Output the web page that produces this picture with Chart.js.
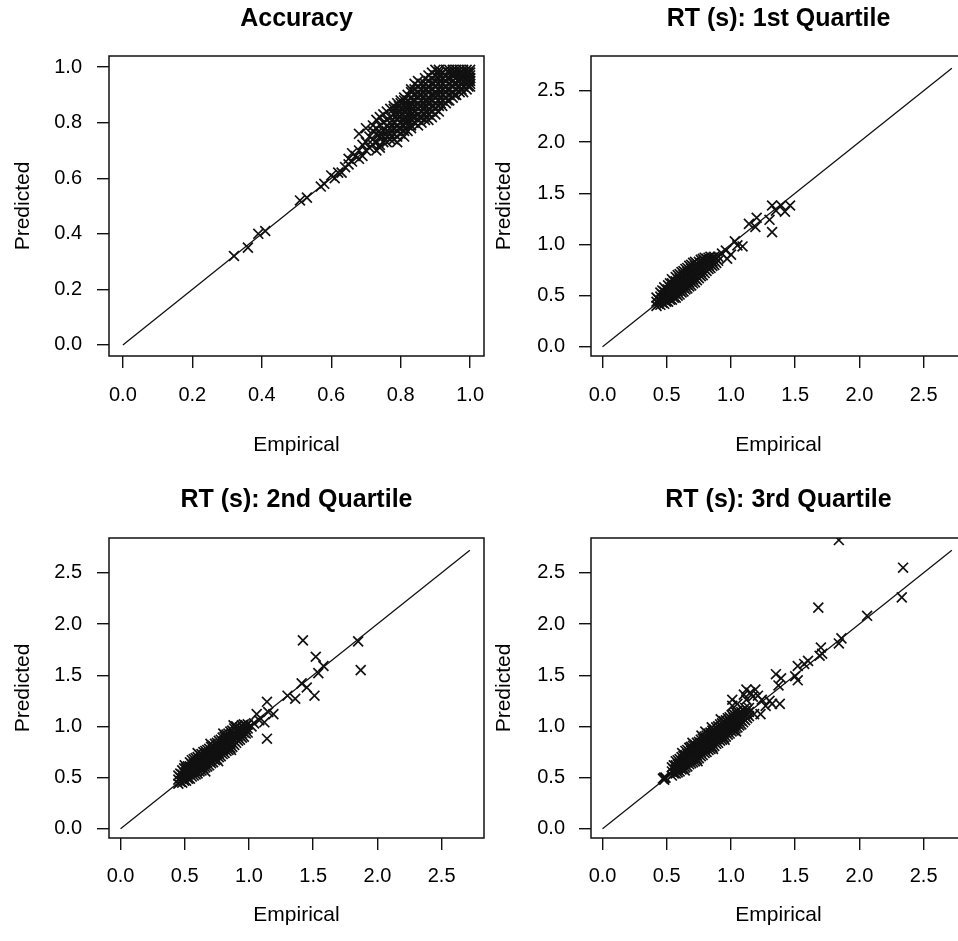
<!DOCTYPE html>
<html>
<head>
<meta charset="utf-8">
<script src="https://cdn.jsdelivr.net/npm/chart.js@4.4.1/dist/chart.umd.min.js"></script>
<style>
html, body { margin: 0; padding: 0; background: #fff; overflow: hidden; }
#wrap { position: relative; width: 958px; height: 941px; overflow: hidden; }
canvas { position: absolute; }
</style>
</head>
<body>
<div id="wrap">
<canvas id="c1" width="500" height="470" style="left:0px;top:0px"></canvas>
<canvas id="c2" width="500" height="470" style="left:479px;top:0px"></canvas>
<canvas id="c3" width="500" height="471" style="left:0px;top:470px"></canvas>
<canvas id="c4" width="500" height="471" style="left:479px;top:470px"></canvas>
</div>
<script>
// titles and axis labels
const titles = ['Accuracy', 'RT (s): 1st Quartile', 'RT (s): 2nd Quartile', 'RT (s): 3rd Quartile'];
const xLabel = 'Empirical';
const yLabel = 'Predicted';

// tick values
const accTicks = [0, 0.2, 0.4, 0.6, 0.8, 1.0];
const rtTicks = [0, 0.5, 1.0, 1.5, 2.0, 2.5];

// identity line end points
const accDiag = [0, 1.0];
const rtDiag = [0, 2.72];

// [empirical, predicted]
const accPairs = [
 [0.32,0.32],[0.36,0.35],[0.39,0.40],[0.41,0.41],[0.51,0.52],[0.53,0.53],
 [0.57,0.57],[0.58,0.58],[0.60,0.61],[0.61,0.60],[0.62,0.62],
 [0.63,0.62],[0.64,0.64],[0.65,0.65],[0.65,0.67],[0.66,0.66],[0.66,0.69],
 [0.67,0.68],[0.68,0.67],[0.68,0.70],[0.68,0.76],[0.69,0.72],[0.69,0.68],
 [0.70,0.70],[0.70,0.73],[0.70,0.78],[0.71,0.75],[0.71,0.71],[0.72,0.74],
 [0.72,0.72],[0.73,0.76],[0.73,0.73],[0.73,0.70],[0.74,0.72],[0.74,0.75],
 [0.74,0.71],[0.75,0.77],[0.75,0.73],[0.76,0.75],[0.76,0.79],[0.77,0.76],
 [0.77,0.80],[0.77,0.74],
 [0.78,0.76],[0.78,0.78],[0.78,0.80],[0.78,0.83],[0.79,0.75],[0.79,0.81],
 [0.80,0.78],[0.80,0.80],[0.80,0.82],[0.80,0.85],[0.80,0.87],[0.80,0.76],
 [0.81,0.79],[0.81,0.84],[0.81,0.86],
 [0.82,0.79],[0.82,0.81],[0.82,0.83],[0.82,0.85],[0.82,0.88],[0.82,0.77],
 [0.83,0.81],[0.83,0.84],[0.83,0.87],
 [0.84,0.80],[0.84,0.82],[0.84,0.84],[0.84,0.86],[0.84,0.88],[0.84,0.90],[0.84,0.94],
 [0.85,0.83],[0.85,0.87],[0.85,0.91],[0.85,0.79],
 [0.86,0.82],[0.86,0.84],[0.86,0.86],[0.86,0.88],[0.86,0.90],[0.86,0.92],
 [0.87,0.83],[0.87,0.86],[0.87,0.90],[0.87,0.94],
 [0.88,0.83],[0.88,0.85],[0.88,0.87],[0.88,0.89],[0.88,0.91],[0.88,0.93],[0.88,0.95],[0.88,0.81],
 [0.89,0.84],[0.89,0.88],[0.89,0.92],[0.89,0.96],
 [0.90,0.85],[0.90,0.87],[0.90,0.89],[0.90,0.91],[0.90,0.93],[0.90,0.95],[0.90,0.97],
 [0.91,0.86],[0.91,0.90],[0.91,0.94],[0.91,0.97],[0.91,0.84],
 [0.92,0.86],[0.92,0.88],[0.92,0.90],[0.92,0.92],[0.92,0.94],[0.92,0.96],[0.92,0.98],
 [0.93,0.87],[0.93,0.91],[0.93,0.95],[0.93,0.99],
 [0.94,0.88],[0.94,0.90],[0.94,0.92],[0.94,0.94],[0.94,0.96],[0.94,0.98],[0.94,0.99],
 [0.95,0.89],[0.95,0.93],[0.95,0.97],[0.95,0.99],
 [0.96,0.90],[0.96,0.92],[0.96,0.94],[0.96,0.96],[0.96,0.98],[0.96,0.99],
 [0.97,0.91],[0.97,0.95],[0.97,0.98],
 [0.98,0.91],[0.98,0.93],[0.98,0.95],[0.98,0.97],[0.98,0.99],
 [0.99,0.92],[0.99,0.96],[0.99,0.99],
 [1.00,0.93],[1.00,0.95],[1.00,0.97],[1.00,0.99],
 [0.79,0.77],[0.79,0.79],[0.79,0.83],[0.79,0.85],[0.81,0.77],[0.81,0.81],[0.81,0.82],[0.81,0.88],
 [0.83,0.79],[0.83,0.83],[0.83,0.86],[0.83,0.89],[0.83,0.92],[0.85,0.81],[0.85,0.85],[0.85,0.89],
 [0.85,0.93],[0.86,0.80],[0.87,0.85],[0.87,0.88],[0.87,0.92],[0.89,0.82],[0.89,0.86],[0.89,0.90],
 [0.89,0.94],[0.90,0.83],[0.91,0.88],[0.91,0.92],[0.91,0.96],[0.91,0.98],[0.93,0.89],[0.93,0.93],
 [0.93,0.97],[0.95,0.91],[0.95,0.95],[0.95,0.98],[0.97,0.93],[0.97,0.96],[0.97,0.99],[0.99,0.94],
 [0.99,0.97],[0.99,0.98],[1.00,0.94],[1.00,0.96],[1.00,0.98],
 [0.72,0.77],[0.72,0.79],[0.73,0.78],[0.73,0.81],[0.74,0.76],[0.74,0.79],[0.74,0.82],
 [0.75,0.75],[0.75,0.80],[0.75,0.83],[0.76,0.73],[0.76,0.77],[0.76,0.81],[0.76,0.84],
 [0.77,0.78],[0.77,0.82],[0.77,0.85],[0.78,0.74],[0.78,0.85],[0.78,0.86],[0.79,0.73],
 [0.79,0.87],[0.80,0.84],[0.80,0.88],[0.81,0.75],[0.81,0.89],[0.82,0.86],[0.82,0.90],
 [0.83,0.78],[0.83,0.91],[0.84,0.92],[0.85,0.95],[0.86,0.94],[0.87,0.81],[0.87,0.96],
 [0.88,0.97],[0.89,0.98],[0.90,0.99],[0.91,0.99],
 [0.795,0.78],[0.795,0.82],[0.795,0.86],[0.815,0.80],[0.815,0.84],[0.815,0.87],
 [0.835,0.82],[0.835,0.85],[0.835,0.88],[0.855,0.82],[0.855,0.86],[0.855,0.90],
 [0.875,0.84],[0.875,0.88],[0.875,0.92],[0.895,0.86],[0.895,0.90],[0.895,0.94],
 [0.915,0.87],[0.915,0.91],[0.915,0.95],[0.935,0.88],[0.935,0.92],[0.935,0.96],
 [0.955,0.90],[0.955,0.94],[0.955,0.97],[0.975,0.92],[0.975,0.94],[0.975,0.97],
 [0.995,0.93],[0.995,0.95],[0.995,0.98]
];

const q1Pairs = [
 [0.42,0.40],[0.42,0.44],[0.42,0.48],
 [0.45,0.41],[0.45,0.45],[0.45,0.49],[0.45,0.53],
 [0.48,0.42],[0.48,0.46],[0.48,0.50],[0.48,0.54],[0.48,0.58],
 [0.51,0.44],[0.51,0.48],[0.51,0.52],[0.51,0.56],[0.51,0.60],
 [0.54,0.46],[0.54,0.50],[0.54,0.54],[0.54,0.58],[0.54,0.62],[0.54,0.66],
 [0.57,0.48],[0.57,0.52],[0.57,0.56],[0.57,0.60],[0.57,0.64],[0.57,0.68],
 [0.60,0.51],[0.60,0.55],[0.60,0.59],[0.60,0.63],[0.60,0.67],[0.60,0.71],
 [0.63,0.54],[0.63,0.58],[0.63,0.62],[0.63,0.66],[0.63,0.70],[0.63,0.74],
 [0.66,0.57],[0.66,0.61],[0.66,0.65],[0.66,0.69],[0.66,0.73],[0.66,0.77],
 [0.69,0.60],[0.69,0.64],[0.69,0.68],[0.69,0.72],[0.69,0.76],[0.69,0.80],
 [0.72,0.63],[0.72,0.67],[0.72,0.71],[0.72,0.75],[0.72,0.79],[0.72,0.83],
 [0.75,0.67],[0.75,0.71],[0.75,0.75],[0.75,0.79],[0.75,0.83],
 [0.78,0.70],[0.78,0.74],[0.78,0.78],[0.78,0.82],[0.78,0.86],
 [0.81,0.74],[0.81,0.78],[0.81,0.82],[0.81,0.86],
 [0.84,0.77],[0.84,0.81],[0.84,0.85],[0.84,0.88],
 [0.87,0.80],[0.87,0.84],[0.87,0.88],
 [0.90,0.84],[0.90,0.88],
 [0.435,0.42],[0.435,0.46],[0.465,0.43],[0.465,0.47],[0.465,0.51],[0.465,0.55],
 [0.495,0.44],[0.495,0.48],[0.495,0.52],[0.495,0.56],
 [0.525,0.46],[0.525,0.50],[0.525,0.54],[0.525,0.58],[0.525,0.62],
 [0.555,0.48],[0.555,0.52],[0.555,0.56],[0.555,0.60],[0.555,0.64],
 [0.585,0.50],[0.585,0.54],[0.585,0.58],[0.585,0.62],[0.585,0.66],[0.585,0.70],
 [0.615,0.53],[0.615,0.57],[0.615,0.61],[0.615,0.65],[0.615,0.69],[0.615,0.73],
 [0.645,0.56],[0.645,0.60],[0.645,0.64],[0.645,0.68],[0.645,0.72],[0.645,0.76],
 [0.675,0.59],[0.675,0.63],[0.675,0.67],[0.675,0.71],[0.675,0.75],[0.675,0.79],
 [0.705,0.62],[0.705,0.66],[0.705,0.70],[0.705,0.74],[0.705,0.78],[0.705,0.82],
 [0.735,0.65],[0.735,0.69],[0.735,0.73],[0.735,0.77],[0.735,0.81],
 [0.765,0.69],[0.765,0.73],[0.765,0.77],[0.765,0.81],[0.765,0.85],
 [0.795,0.72],[0.795,0.76],[0.795,0.80],[0.795,0.84],[0.795,0.87],
 [0.825,0.76],[0.825,0.80],[0.825,0.84],[0.825,0.87],
 [0.855,0.79],[0.855,0.83],[0.855,0.87],[0.885,0.82],[0.885,0.86],
 [0.93,0.91],[0.96,0.94],[0.97,0.86],[1.00,0.90],[1.03,1.03],[1.05,0.99],
 [1.09,0.98],[1.14,1.20],[1.19,1.17],[1.20,1.26],[1.30,1.24],[1.32,1.12],
 [1.32,1.38],[1.35,1.33],[1.39,1.38],[1.42,1.32],[1.46,1.38]
];

const q2Pairs = [
 [0.45,0.44],[0.45,0.48],[0.45,0.52],
 [0.48,0.45],[0.48,0.49],[0.48,0.53],[0.48,0.57],
 [0.51,0.47],[0.51,0.51],[0.51,0.55],[0.51,0.59],
 [0.54,0.49],[0.54,0.53],[0.54,0.57],[0.54,0.61],[0.54,0.65],
 [0.57,0.52],[0.57,0.56],[0.57,0.60],[0.57,0.64],[0.57,0.68],
 [0.60,0.54],[0.60,0.58],[0.60,0.62],[0.60,0.66],[0.60,0.70],
 [0.63,0.57],[0.63,0.61],[0.63,0.65],[0.63,0.69],[0.63,0.73],
 [0.66,0.60],[0.66,0.64],[0.66,0.68],[0.66,0.72],[0.66,0.76],
 [0.69,0.62],[0.69,0.66],[0.69,0.70],[0.69,0.74],[0.69,0.78],
 [0.72,0.65],[0.72,0.69],[0.72,0.73],[0.72,0.77],[0.72,0.81],
 [0.75,0.68],[0.75,0.72],[0.75,0.76],[0.75,0.80],[0.75,0.84],
 [0.78,0.71],[0.78,0.75],[0.78,0.79],[0.78,0.83],[0.78,0.87],
 [0.81,0.74],[0.81,0.78],[0.81,0.82],[0.81,0.86],[0.81,0.90],
 [0.84,0.77],[0.84,0.81],[0.84,0.85],[0.84,0.89],[0.84,0.93],
 [0.87,0.80],[0.87,0.84],[0.87,0.88],[0.87,0.92],[0.87,0.96],
 [0.90,0.84],[0.90,0.88],[0.90,0.92],[0.90,0.96],[0.90,1.00],
 [0.93,0.87],[0.93,0.91],[0.93,0.95],[0.93,0.99],
 [0.96,0.90],[0.96,0.94],[0.96,0.98],[0.96,1.02],
 [0.99,0.94],[0.99,0.98],[0.99,1.02],
 [0.465,0.46],[0.465,0.50],[0.465,0.54],[0.495,0.47],[0.495,0.51],[0.495,0.55],[0.495,0.59],
 [0.525,0.49],[0.525,0.53],[0.525,0.57],[0.525,0.61],
 [0.555,0.51],[0.555,0.55],[0.555,0.59],[0.555,0.63],[0.555,0.67],
 [0.585,0.53],[0.585,0.57],[0.585,0.61],[0.585,0.65],[0.585,0.69],
 [0.615,0.56],[0.615,0.60],[0.615,0.64],[0.615,0.68],[0.615,0.72],
 [0.645,0.59],[0.645,0.63],[0.645,0.67],[0.645,0.71],[0.645,0.75],
 [0.675,0.61],[0.675,0.65],[0.675,0.69],[0.675,0.73],[0.675,0.77],
 [0.705,0.64],[0.705,0.68],[0.705,0.72],[0.705,0.76],[0.705,0.80],
 [0.735,0.67],[0.735,0.71],[0.735,0.75],[0.735,0.79],[0.735,0.83],
 [0.765,0.70],[0.765,0.74],[0.765,0.78],[0.765,0.82],[0.765,0.86],
 [0.795,0.73],[0.795,0.77],[0.795,0.81],[0.795,0.85],[0.795,0.89],
 [0.825,0.76],[0.825,0.80],[0.825,0.84],[0.825,0.88],[0.825,0.92],
 [0.855,0.79],[0.855,0.83],[0.855,0.87],[0.855,0.91],[0.855,0.95],
 [0.885,0.82],[0.885,0.86],[0.885,0.90],[0.885,0.94],[0.885,0.98],
 [0.915,0.86],[0.915,0.90],[0.915,0.94],[0.915,0.98],
 [0.945,0.89],[0.945,0.93],[0.945,0.97],[0.945,1.01],[0.975,0.93],[0.975,0.97],[0.975,1.01],
 [0.50,0.62],[0.60,0.74],[0.70,0.83],[0.80,0.93],[0.66,0.56],[0.76,0.66],[0.86,0.77],[0.88,1.01],
 [1.02,1.00],[1.04,1.03],[1.06,1.12],[1.08,1.06],[1.12,1.04],[1.14,1.24],[1.15,1.14],
 [1.19,1.12],[1.14,0.88],[1.30,1.30],[1.36,1.27],[1.41,1.42],[1.45,1.38],[1.51,1.30],
 [1.54,1.52],[1.58,1.59],[1.52,1.68],[1.42,1.84],[1.85,1.83],[1.87,1.55]
];

const q3Pairs = [
 [0.47,0.49],[0.48,0.50],[0.49,0.50],[0.48,0.48],
 [0.54,0.52],[0.54,0.56],[0.54,0.60],
 [0.57,0.54],[0.57,0.58],[0.57,0.62],[0.57,0.66],
 [0.60,0.56],[0.60,0.60],[0.60,0.64],[0.60,0.68],
 [0.63,0.59],[0.63,0.63],[0.63,0.67],[0.63,0.71],
 [0.66,0.61],[0.66,0.65],[0.66,0.69],[0.66,0.73],[0.66,0.77],
 [0.69,0.64],[0.69,0.68],[0.69,0.72],[0.69,0.76],[0.69,0.80],
 [0.72,0.66],[0.72,0.70],[0.72,0.74],[0.72,0.78],[0.72,0.82],
 [0.75,0.69],[0.75,0.73],[0.75,0.77],[0.75,0.81],[0.75,0.85],
 [0.78,0.72],[0.78,0.76],[0.78,0.80],[0.78,0.84],[0.78,0.88],
 [0.81,0.75],[0.81,0.79],[0.81,0.83],[0.81,0.87],[0.81,0.91],
 [0.84,0.78],[0.84,0.82],[0.84,0.86],[0.84,0.90],[0.84,0.94],
 [0.87,0.81],[0.87,0.85],[0.87,0.89],[0.87,0.93],[0.87,0.97],
 [0.90,0.84],[0.90,0.88],[0.90,0.92],[0.90,0.96],[0.90,1.00],
 [0.93,0.87],[0.93,0.91],[0.93,0.95],[0.93,0.99],[0.93,1.03],
 [0.96,0.90],[0.96,0.94],[0.96,0.98],[0.96,1.02],[0.96,1.06],
 [0.99,0.93],[0.99,0.97],[0.99,1.01],[0.99,1.05],[0.99,1.09],
 [1.02,0.96],[1.02,1.00],[1.02,1.04],[1.02,1.08],[1.02,1.12],
 [1.05,0.99],[1.05,1.03],[1.05,1.07],[1.05,1.11],[1.05,1.15],
 [1.08,1.02],[1.08,1.06],[1.08,1.10],[1.08,1.14],
 [1.11,1.06],[1.11,1.10],[1.11,1.14],[1.11,1.18],
 [1.14,1.10],[1.14,1.14],[1.14,1.18],
 [0.555,0.54],[0.555,0.58],[0.555,0.62],[0.585,0.55],[0.585,0.59],[0.585,0.63],[0.585,0.67],
 [0.615,0.58],[0.615,0.62],[0.615,0.66],[0.615,0.70],
 [0.645,0.60],[0.645,0.64],[0.645,0.68],[0.645,0.72],[0.645,0.76],
 [0.675,0.63],[0.675,0.67],[0.675,0.71],[0.675,0.75],[0.675,0.79],
 [0.705,0.65],[0.705,0.69],[0.705,0.73],[0.705,0.77],[0.705,0.81],
 [0.735,0.68],[0.735,0.72],[0.735,0.76],[0.735,0.80],[0.735,0.84],
 [0.765,0.71],[0.765,0.75],[0.765,0.79],[0.765,0.83],[0.765,0.87],
 [0.795,0.74],[0.795,0.78],[0.795,0.82],[0.795,0.86],[0.795,0.90],
 [0.825,0.77],[0.825,0.81],[0.825,0.85],[0.825,0.89],[0.825,0.93],
 [0.855,0.80],[0.855,0.84],[0.855,0.88],[0.855,0.92],[0.855,0.96],
 [0.885,0.83],[0.885,0.87],[0.885,0.91],[0.885,0.95],[0.885,0.99],
 [0.915,0.86],[0.915,0.90],[0.915,0.94],[0.915,0.98],[0.915,1.02],
 [0.945,0.89],[0.945,0.93],[0.945,0.97],[0.945,1.01],[0.945,1.05],
 [0.975,0.92],[0.975,0.96],[0.975,1.00],[0.975,1.04],[0.975,1.08],
 [1.005,0.95],[1.005,0.99],[1.005,1.03],[1.005,1.07],[1.005,1.11],
 [1.035,0.98],[1.035,1.02],[1.035,1.06],[1.035,1.10],[1.035,1.14],
 [1.065,1.01],[1.065,1.05],[1.065,1.09],[1.065,1.13],
 [1.095,1.04],[1.095,1.08],[1.095,1.12],[1.095,1.16],[1.125,1.08],[1.125,1.12],[1.125,1.16],
 [0.62,0.74],[0.70,0.84],[0.77,0.91],[0.85,0.99],[0.92,1.07],[0.74,0.66],
 [0.86,0.78],[0.95,0.87],[1.04,0.95],[0.64,0.57],[0.80,0.95],[0.68,0.79],
 [1.01,1.20],[1.01,1.26],[1.05,1.22],[1.10,1.31],[1.12,1.26],[1.12,1.36],
 [1.15,1.33],[1.17,1.29],[1.19,1.36],[1.18,1.12],[1.21,1.30],[1.23,1.12],
 [1.24,1.26],[1.27,1.20],[1.30,1.25],[1.32,1.22],[1.38,1.22],[1.37,1.40],
 [1.35,1.51],[1.39,1.47],[1.50,1.49],[1.52,1.45],[1.52,1.59],[1.57,1.61],
 [1.60,1.64],[1.69,1.69],[1.71,1.71],[1.70,1.77],[1.84,1.81],[1.86,1.86],
 [1.68,2.16],[2.06,2.08],[2.33,2.26],[2.34,2.55],[1.84,2.82]
];

const FONT = '"Liberation Sans", Arial, Helvetica, sans-serif';
const INK = '#111';

const boxPlugin = {
  id: 'box',
  afterDraw(chart) {
    const a = chart.chartArea, c = chart.ctx;
    c.save();
    c.strokeStyle = INK;
    c.lineWidth = 1.5;
    c.strokeRect(a.left, a.top, a.right - a.left, a.bottom - a.top);
    c.restore();
  }
};

function makePanel(id, title, pairs, diag, xLim, yLim, tickVals, g) {
  new Chart(document.getElementById(id), {
    type: 'scatter',
    data: {
      datasets: [{
        type: 'line',
        data: diag.map(v => ({x: v, y: v})),
        borderColor: INK, borderWidth: 1.3, pointRadius: 0, fill: false, clip: 0
      }, {
        data: pairs.map(p => ({x: p[0], y: p[1]})),
        pointStyle: 'crossRot', pointRadius: 7,
        borderColor: INK, backgroundColor: INK, borderWidth: 1.7, clip: 0
      }]
    },
    options: {
      responsive: false, animation: false, devicePixelRatio: 1,
      layout: {padding: {left: 0, top: 0, right: g.padRight, bottom: 0}},
      plugins: {
        legend: {display: false},
        tooltip: {enabled: false},
        title: {
          display: true, text: title, fullSize: false, color: '#000',
          font: {family: FONT, size: 25, weight: 'bold'},
          padding: {top: g.titleTop, bottom: g.titleBottom}
        }
      },
      scales: {
        x: {
          type: 'linear', min: xLim[0], max: xLim[1],
          afterBuildTicks: s => { s.ticks = tickVals.map(v => ({value: v})); },
          afterFit: s => { s.height = g.xAxisH; },
          ticks: {color: '#000', font: {family: FONT, size: 20}, padding: g.xTickPad,
                  maxRotation: 0, autoSkip: false, callback: v => v.toFixed(1)},
          grid: {drawOnChartArea: false, drawTicks: true, tickLength: 12, color: INK, lineWidth: 1.4},
          border: {display: false},
          title: {display: true, text: xLabel, color: '#000', font: {family: FONT, size: 21},
                  padding: {top: 0, bottom: g.xTitlePad}}
        },
        y: {
          type: 'linear', min: yLim[0], max: yLim[1],
          afterBuildTicks: s => { s.ticks = tickVals.map(v => ({value: v})); },
          afterFit: s => { s.width = g.yAxisW; },
          ticks: {color: '#000', font: {family: FONT, size: 20}, padding: g.yTickPad,
                  autoSkip: false, callback: v => v.toFixed(1)},
          grid: {drawOnChartArea: false, drawTicks: true, tickLength: 12, color: INK, lineWidth: 1.4},
          border: {display: false},
          title: {display: true, text: yLabel, color: '#000', font: {family: FONT, size: 21},
                  padding: {top: g.yTitlePad, bottom: 0}}
        }
      }
    },
    plugins: [boxPlugin]
  });
}

const topLeft  = {padRight: 16, titleTop: 4, titleBottom: 22, xAxisH: 114, xTickPad: 15, xTitlePad: 12.4, yAxisW: 109, yTickPad: 15, yTitlePad: 10.7};
const topRight = {padRight: 13, titleTop: 4, titleBottom: 22, xAxisH: 114, xTickPad: 15, xTitlePad: 12.4, yAxisW: 112, yTickPad: 14, yTitlePad: 12.4};
const botLeft  = {padRight: 16, titleTop: 15.5, titleBottom: 22.5, xAxisH: 103, xTickPad: 14.7, xTitlePad: 13.4, yAxisW: 109, yTickPad: 15, yTitlePad: 10.7};
const botRight = {padRight: 13, titleTop: 15.5, titleBottom: 22.5, xAxisH: 103, xTickPad: 14.7, xTitlePad: 13.4, yAxisW: 112, yTickPad: 14, yTitlePad: 12.4};

makePanel('c1', titles[0], accPairs, accDiag, [-0.04, 1.04], [-0.04, 1.04], accTicks, topLeft);
makePanel('c2', titles[1], q1Pairs, rtDiag, [-0.09, 2.83], [-0.09, 2.84], rtTicks, topRight);
makePanel('c3', titles[2], q2Pairs, rtDiag, [-0.09, 2.83], [-0.09, 2.84], rtTicks, botLeft);
makePanel('c4', titles[3], q3Pairs, rtDiag, [-0.09, 2.83], [-0.09, 2.84], rtTicks, botRight);
</script>
</body>
</html>
